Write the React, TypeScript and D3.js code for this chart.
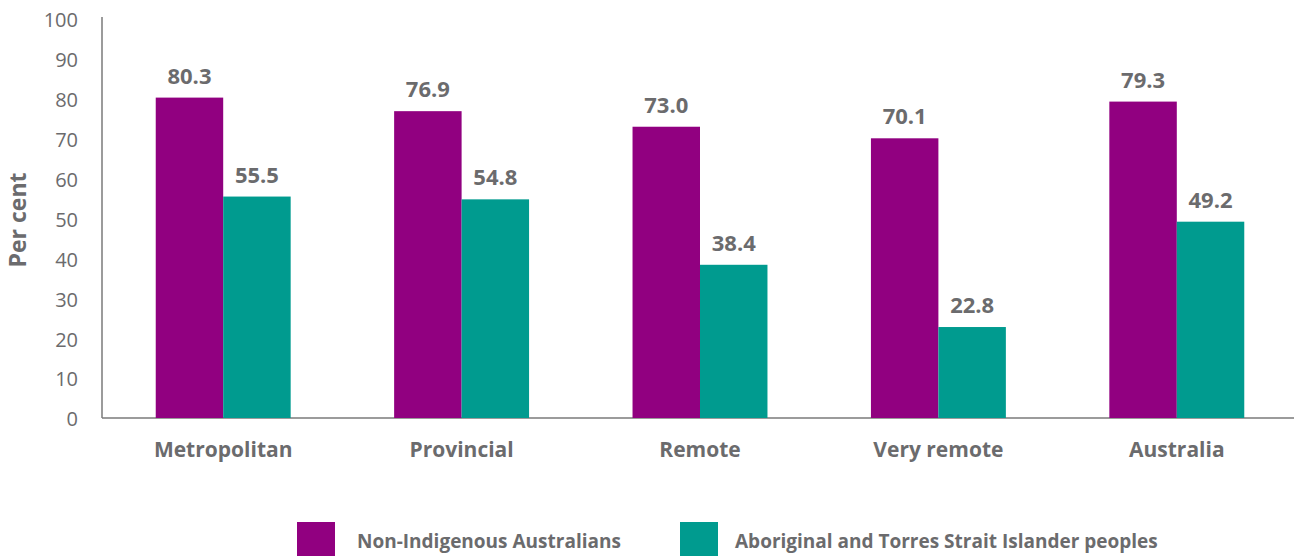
import React from "react";
import * as d3 from "d3";

const categories = ["Metropolitan", "Provincial", "Remote", "Very remote", "Australia"];
const seriesNames = ["Non-Indigenous Australians", "Aboriginal and Torres Strait Islander peoples"];
const nonIndigenous = [80.3, 76.9, 73.0, 70.1, 79.3];
const indigenous = [55.5, 54.8, 38.4, 22.8, 49.2];
const yTicks = [0, 10, 20, 30, 40, 50, 60, 70, 80, 90, 100];

const colors = ["#910080", "#009B8F"];
const textGrey = "#6b6b6d";
const axisGrey = "#7a7a7a";

function App() {
  const svgRef = React.useRef<SVGSVGElement>(null);

  React.useEffect(() => {
    document.body.style.margin = "0";
    const width = 1294;
    const height = 556;
    const svg = d3.select(svgRef.current);
    svg.selectAll("*").remove();
    svg.attr("width", width).attr("height", height).style("display", "block");

    const font = "'Open Sans', sans-serif";

    // scales
    const x = d3
      .scaleBand<string>()
      .domain(categories)
      .range([104, 1296])
      .paddingInner(0.434)
      .paddingOuter(0.217);
    const xs = d3.scaleBand<number>().domain([0, 1]).range([0, x.bandwidth()]);
    const y = d3.scaleLinear().domain([0, 100]).range([418, 19]);

    // axes lines
    svg
      .append("line")
      .attr("x1", 102)
      .attr("x2", 102)
      .attr("y1", 17)
      .attr("y2", y(0))
      .attr("stroke", axisGrey)
      .attr("stroke-width", 1.5);
    svg
      .append("line")
      .attr("x1", 102)
      .attr("x2", width)
      .attr("y1", y(0))
      .attr("y2", y(0))
      .attr("stroke", axisGrey)
      .attr("stroke-width", 1.5);

    // y tick labels
    svg
      .append("g")
      .selectAll("text")
      .data(yTicks)
      .enter()
      .append("text")
      .attr("x", 78)
      .attr("y", (d) => y(d) + 3)
      .attr("text-anchor", "end")
      .attr("dominant-baseline", "middle")
      .attr("font-family", font)
      .attr("font-size", 20)
      .attr("fill", textGrey)
      .text((d) => d);

    // y title
    svg
      .append("text")
      .attr("transform", `translate(26, 220) rotate(-90)`)
      .attr("text-anchor", "middle")
      .attr("font-family", font)
      .attr("font-weight", 700)
      .attr("font-size", 23)
      .attr("fill", textGrey)
      .text("Per cent");

    // bars
    const series = [nonIndigenous, indigenous];
    series.forEach((values, si) => {
      const g = svg.append("g");
      g.selectAll("rect")
        .data(values)
        .enter()
        .append("rect")
        .attr("x", (_, i) => (x(categories[i]) ?? 0) + (xs(si) ?? 0))
        .attr("y", (d) => y(d))
        .attr("width", xs.bandwidth())
        .attr("height", (d) => y(0) - y(d))
        .attr("fill", colors[si]);
      g.selectAll("text")
        .data(values)
        .enter()
        .append("text")
        .attr("x", (_, i) => (x(categories[i]) ?? 0) + (xs(si) ?? 0) + xs.bandwidth() / 2)
        .attr("y", (d) => y(d) - 14)
        .attr("text-anchor", "middle")
        .attr("font-family", font)
        .attr("font-weight", 700)
        .attr("font-size", 22)
        .attr("fill", textGrey)
        .text((d) => d.toFixed(1));
    });

    // category labels
    svg
      .append("g")
      .selectAll("text")
      .data(categories)
      .enter()
      .append("text")
      .attr("x", (d) => (x(d) ?? 0) + x.bandwidth() / 2)
      .attr("y", 457)
      .attr("text-anchor", "middle")
      .attr("font-family", font)
      .attr("font-weight", 700)
      .attr("font-size", 21)
      .attr("fill", textGrey)
      .text((d) => d);

    // legend
    const legendX = [297, 680];
    const legendTextX = [357, 735];
    seriesNames.forEach((name, i) => {
      svg
        .append("rect")
        .attr("x", legendX[i])
        .attr("y", 522)
        .attr("width", 38)
        .attr("height", 38)
        .attr("fill", colors[i]);
      svg
        .append("text")
        .attr("x", legendTextX[i])
        .attr("y", 548)
        .attr("font-family", font)
        .attr("font-weight", 700)
        .attr("font-size", 19)
        .attr("fill", textGrey)
        .text(name);
    });
  }, []);

  return <svg ref={svgRef} />;
}

export default App;
